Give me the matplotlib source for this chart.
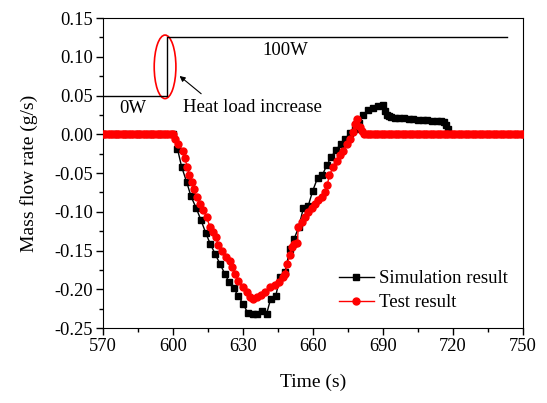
import matplotlib.pyplot as plt
from matplotlib.patches import Ellipse

plt.rcParams['font.family'] = ['Liberation Serif', 'DejaVu Serif']
plt.rcParams['mathtext.fontset'] = 'stix'

# simulation result (black squares)
sim_t = [570, 575, 580, 585, 590, 595, 600, 601.9, 603.7, 605.9, 607.7, 609.9, 611.9, 614.0,
         615.9, 618.0, 620.1, 622.2, 624.1, 626.1, 628.0, 630.1, 632.1, 634.1, 636.1,
         638.1, 640.1, 641.9, 644.0, 645.9, 648.0, 650.1, 651.9, 653.9, 655.9, 658.0,
         659.9, 662.0, 664.0, 665.9, 667.9, 669.9, 671.9, 673.7, 675.9, 678.0, 679.9,
         681.6, 683.7, 685.9, 688.0, 690.1, 690.8, 691.6, 692.5, 693.5, 695, 697, 699,
         701, 703, 705, 707, 709, 711, 713, 715, 716, 717, 718, 720.9, 725, 730, 740, 750]
sim_v = [0, 0, 0, 0, 0, 0, 0, -0.0185, -0.042, -0.062, -0.080, -0.095, -0.110, -0.127,
         -0.141, -0.154, -0.167, -0.180, -0.191, -0.199, -0.209, -0.219, -0.231, -0.232, -0.232,
         -0.228, -0.232, -0.212, -0.209, -0.184, -0.178, -0.148, -0.135, -0.120, -0.095, -0.092,
         -0.073, -0.056, -0.053, -0.040, -0.029, -0.020, -0.013, -0.0056, 0.001, 0.0074, 0.0146,
         0.0245, 0.031, 0.0345, 0.036, 0.0375, 0.030, 0.0245, 0.023, 0.022, 0.0215, 0.021, 0.0205,
         0.020, 0.0195, 0.019, 0.0185, 0.018, 0.0175, 0.017, 0.0165, 0.016, 0.012, 0.0074,
         -0.0013, -0.002, -0.003, -0.0035, -0.004]

# test result (red circles)
test_t_before = list(range(570, 601))
test_t_mid = [600.9, 602.3, 604.1, 605.1, 606.1, 607.0, 608.0, 609.0, 610.2, 611.6, 613.0,
              614.4, 615.9, 617.3, 618.4, 619.4, 620.9, 622.7, 624.4, 625.1, 626.6, 628.0,
              630.1, 631.6, 633.0, 634.4, 635.9, 637.6, 639.4, 641.6, 643.7, 645.6, 647.3,
              648.0, 649.0, 650.1, 650.9, 651.9, 653.3, 653.7, 655.2, 656.6, 658.0, 659.4,
              660.9, 662.3, 663.7, 665.1, 666.1, 667.0, 668.7, 670.1, 671.6, 673.0, 674.4,
              675.9, 677.3, 678.0, 678.3, 679.0, 680.1, 681.2]
test_v_mid = [-0.0056, -0.012, -0.021, -0.031, -0.042, -0.052, -0.062, -0.071, -0.081, -0.090,
              -0.098, -0.107, -0.120, -0.126, -0.132, -0.143, -0.150, -0.158, -0.163, -0.171,
              -0.180, -0.189, -0.197, -0.204, -0.210, -0.212, -0.210, -0.208, -0.204, -0.197,
              -0.195, -0.191, -0.184, -0.180, -0.167, -0.156, -0.146, -0.141, -0.140, -0.120,
              -0.113, -0.107, -0.100, -0.095, -0.090, -0.085, -0.081, -0.075, -0.066, -0.053,
              -0.042, -0.034, -0.027, -0.021, -0.012, -0.0056, 0.003, 0.0138, 0.0116, 0.020,
              0.0094, 0.004]
test_t_after = list(range(682, 751))
test_t = test_t_before + test_t_mid + test_t_after
test_v = [0] * len(test_t_before) + test_v_mid + [0] * len(test_t_after)

# heat load step
load_t = [570, 597.3, 597.3, 743]
load_v = [0.05, 0.05, 0.125, 0.125]

fig = plt.figure(figsize=(5.47, 4.03), dpi=100)
ax = fig.add_axes([0.1883, 0.1861, 0.7677, 0.7692])

marks = [i for i, t in enumerate(sim_t) if t <= 718]
ax.plot(sim_t, sim_v, color='black', lw=1, marker='s', markersize=4.2,
        markevery=marks, label='Simulation result', zorder=2)
ax.plot(test_t, test_v, color='red', lw=1, marker='o', markersize=5,
        label='Test result', zorder=3)
ax.plot(load_t, load_v, color='black', lw=1, zorder=2)

ax.add_patch(Ellipse((596.6, 0.087), 9.3, 0.082, fill=False, edgecolor='red', lw=1.2))
ax.annotate('', xy=(601.9, 0.0775), xytext=(613, 0.050),
            arrowprops=dict(arrowstyle='-|>', color='black', lw=0.8, mutation_scale=8))
ax.text(604.2, 0.035, 'Heat load increase', fontsize=13.5, va='center', ha='left')
ax.text(577, 0.0336, '0W', fontsize=13.5, va='center', ha='left')
ax.text(638.3, 0.1076, '100W', fontsize=13.5, va='center', ha='left')

ax.set_xlim(570, 750)
ax.set_ylim(-0.25, 0.15)
ax.set_xticks([570, 600, 630, 660, 690, 720, 750])
ax.set_xticks(range(585, 750, 30), minor=True)
ax.set_yticks([-0.25, -0.20, -0.15, -0.10, -0.05, 0.00, 0.05, 0.10, 0.15])
ax.set_yticks([-0.225, -0.175, -0.125, -0.075, -0.025, 0.025, 0.075, 0.125], minor=True)
ax.yaxis.set_major_formatter(plt.FuncFormatter(lambda v, p: '%.2f' % v))
ax.tick_params(which='major', direction='out', length=5, width=1, labelsize=13.3, pad=2)
ax.tick_params(which='minor', direction='out', length=3, width=1)
ax.tick_params(top=False, right=False)

ax.set_xlabel('Time (s)', fontsize=14, labelpad=14)
ax.set_ylabel('Mass flow rate (g/s)', fontsize=14, labelpad=12)

ax.legend(loc='lower right', bbox_to_anchor=(1.005, 0.0), frameon=False, fontsize=13.5,
          handlelength=1.9, handletextpad=0.27, labelspacing=0.35)

fig.savefig('out.png', dpi=100)
